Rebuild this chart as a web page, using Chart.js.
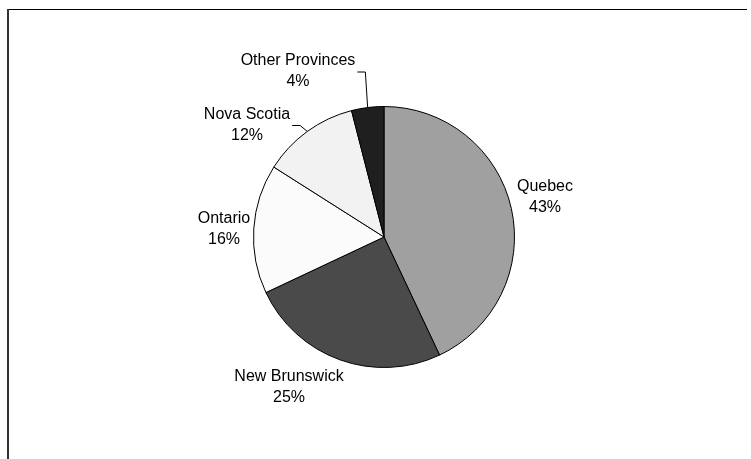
<!DOCTYPE html>
<html>
<head>
<meta charset="utf-8">
<script src="https://cdn.jsdelivr.net/npm/chart.js@4/dist/chart.umd.min.js"></script>
<style>
  html, body { margin: 0; padding: 0; background: #ffffff; }
  #wrap { width: 751px; height: 459px; position: relative; }
</style>
</head>
<body>
<div id="wrap"><canvas id="c" width="751" height="459"></canvas></div>
<script>
// ---- data ----
const categories = ["Quebec", "New Brunswick", "Ontario", "Nova Scotia", "Other Provinces"];
const shares = [43, 25, 16, 12, 4];
const sliceColors = ["#a0a0a0", "#4a4a4a", "#fbfbfb", "#f2f2f2", "#1f1f1f"];

// label placement (offset of label block centre from the pie centre) and leader flags
const labelOffsets = [[161, -41], [-95, 149], [-160, -9.5], [-137, -113.5], [-86, -167]];
const leaderLines = [false, false, false, true, true];

const framePlugin = {
  id: 'frame',
  beforeDraw(chart) {
    const ctx = chart.ctx;
    ctx.save();
    ctx.fillStyle = '#ffffff';
    ctx.fillRect(0, 0, chart.width, chart.height);
    ctx.strokeStyle = '#000000';
    ctx.lineWidth = 1;
    ctx.beginPath();
    ctx.moveTo(7, 9.5);
    ctx.lineTo(747, 9.5);
    ctx.stroke();
    ctx.strokeStyle = '#333333';
    ctx.lineWidth = 2;
    ctx.beginPath();
    ctx.moveTo(8, 9);
    ctx.lineTo(8, chart.height);
    ctx.stroke();
    ctx.restore();
  }
};

const labelPlugin = {
  id: 'sliceLabels',
  afterDatasetsDraw(chart) {
    const ctx = chart.ctx;
    const meta = chart.getDatasetMeta(0);
    const total = shares.reduce((a, b) => a + b, 0);
    ctx.save();
    ctx.font = '16px "Liberation Sans", Arial, sans-serif';
    ctx.fillStyle = '#000000';
    ctx.textAlign = 'center';
    ctx.textBaseline = 'alphabetic';
    meta.data.forEach((arc, i) => {
      const p = arc.getProps(['x', 'y', 'startAngle', 'endAngle', 'outerRadius'], true);
      const cx = p.x + labelOffsets[i][0];
      const cy = p.y + labelOffsets[i][1];
      const line1 = categories[i];
      const line2 = Math.round(shares[i] / total * 100) + '%';
      ctx.fillText(line1, cx, cy - 4.75);
      ctx.fillText(line2, cx, cy + 16.25);
      if (leaderLines[i]) {
        const w = Math.max(ctx.measureText(line1).width, ctx.measureText(line2).width);
        const mid = (p.startAngle + p.endAngle) / 2;
        const ex = p.x + Math.cos(mid) * p.outerRadius;
        const ey = p.y + Math.sin(mid) * p.outerRadius;
        const sx = cx + w / 2 + 2;
        const ly = cy + 2;
        ctx.strokeStyle = '#000000';
        ctx.lineWidth = 1;
        ctx.beginPath();
        ctx.moveTo(sx, ly);
        ctx.lineTo(sx + 8, ly);
        ctx.lineTo(ex, ey);
        ctx.stroke();
      }
    });
    ctx.restore();
  }
};

new Chart(document.getElementById('c'), {
  type: 'pie',
  data: {
    labels: categories,
    datasets: [{
      data: shares,
      backgroundColor: sliceColors,
      borderColor: '#000000',
      borderWidth: 1,
      borderAlign: 'center'
    }]
  },
  options: {
    responsive: false,
    animation: false,
    events: [],
    layout: { padding: { top: 106, bottom: 91, left: 253, right: 236 } },
    plugins: {
      legend: { display: false },
      tooltip: { enabled: false },
      title: { display: false }
    }
  },
  plugins: [framePlugin, labelPlugin]
});
</script>
</body>
</html>
